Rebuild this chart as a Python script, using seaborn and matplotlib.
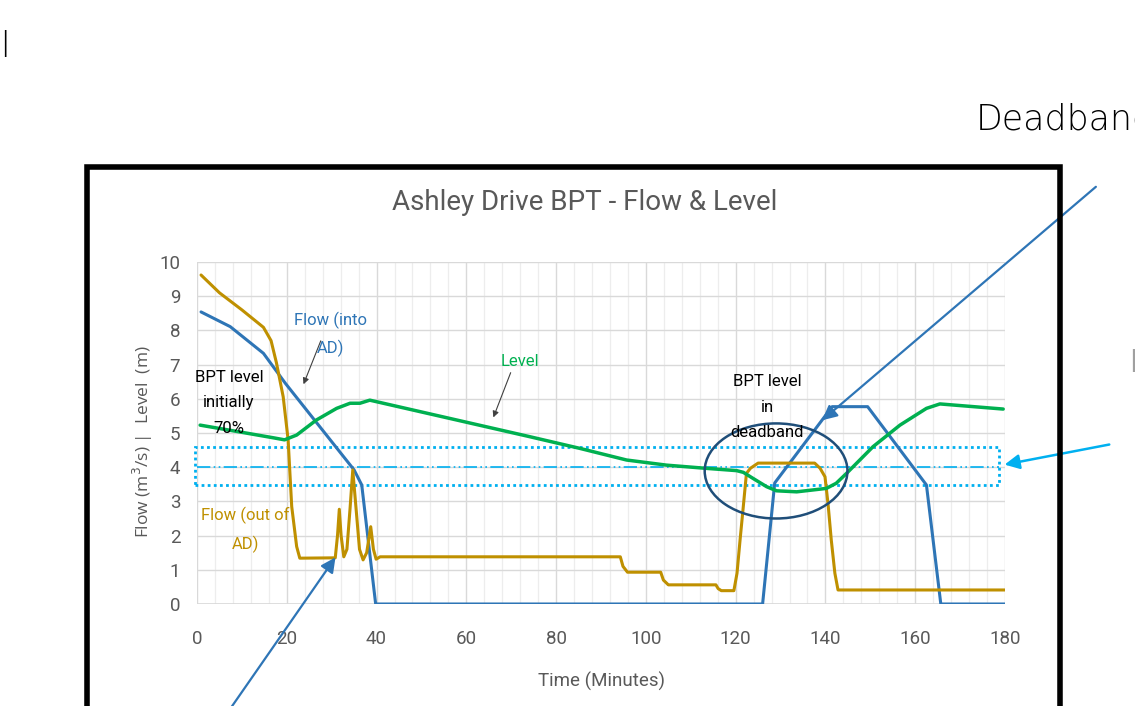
import numpy as np
import pandas as pd
import matplotlib
matplotlib.use("Agg")
import matplotlib.pyplot as plt
from matplotlib import font_manager
from matplotlib.patches import Rectangle, Ellipse
from matplotlib.ticker import MultipleLocator
import seaborn as sns

# ---------------- data ----------------
flow_in_t = [0.9, 7.4, 14.8, 19.7, 35, 36.7, 39.8, 126, 128.7, 141.5, 149.4, 162.5, 165.7, 180]
flow_in_v = [8.54, 8.11, 7.33, 6.45, 3.92, 3.48, 0.0, 0.0, 3.54, 5.77, 5.77, 3.48, 0.0, 0.0]

flow_out_t = [0.9, 5, 10, 14.8, 16.5, 17.7, 19.2, 20.3, 21.1, 22.2, 22.9,
              30.8, 31.3, 31.7, 32.1, 32.7, 33.4, 34.1, 34.7, 35.3, 36.2, 37.0,
              37.8, 38.7, 39.3, 39.9, 40.8,
              94.3, 94.9, 95.9, 103.3, 103.9, 105.0, 115.6, 116.1, 116.8, 119.6,
              120.3, 121.0, 121.7, 122.4, 123.3, 125.0, 137.6, 138.8, 139.9, 140.6,
              141.3, 142.1, 142.8, 180]
flow_out_v = [9.62, 9.1, 8.6, 8.09, 7.7, 7.05, 6.06, 4.8, 2.85, 1.68, 1.34,
              1.35, 2.0, 2.77, 2.0, 1.38, 1.6, 2.8, 3.92, 3.0, 1.6, 1.29,
              1.5, 2.26, 1.6, 1.31, 1.38,
              1.38, 1.1, 0.93, 0.93, 0.7, 0.56, 0.56, 0.45, 0.39, 0.39,
              0.9, 1.9, 2.85, 3.82, 3.97, 4.12, 4.12, 3.97, 3.72, 2.9,
              1.87, 0.9, 0.41, 0.41]

level_t = [0.7, 10, 17, 19.5, 22.2, 26.6, 31.1, 34.1, 36.3, 38.5, 74.2, 85.3, 95.7,
           104.6, 113.1, 120.2, 121.7, 123.9, 126.9, 129.1, 133.6, 140.2, 142.4,
           144.7, 150.6, 156.6, 162.5, 165.5, 179.6]
level_v = [5.23, 5.02, 4.86, 4.80, 4.94, 5.38, 5.72, 5.87, 5.87, 5.96, 4.89, 4.55, 4.21,
           4.06, 3.97, 3.90, 3.85, 3.67, 3.43, 3.31, 3.28, 3.38, 3.53,
           3.82, 4.60, 5.23, 5.72, 5.85, 5.70]

deadband_low, deadband_high, deadband_mid = 3.48, 4.59, 4.0

x_ticks = [0, 20, 40, 60, 80, 100, 120, 140, 160, 180]
y_ticks = list(range(0, 11))

# ---------------- styling ----------------
sns.set_theme(style="white")
avail = {f.name for f in font_manager.fontManager.ttflist}
narrow = "Liberation Sans Narrow" if "Liberation Sans Narrow" in avail else "Roboto"
plt.rcParams["font.family"] = [narrow, "DejaVu Sans"]

GREY = "#595959"
BLUE = "#2E75B6"
GOLD = "#BF9000"
GREEN = "#00B050"
CYAN = "#00B0F0"

W, H = 1135, 706
fig = plt.figure(figsize=(W / 100, H / 100), dpi=100)
fig.patch.set_facecolor("white")

def fpx(x, y):
    """image pixel (top-left origin) -> figure pixel coordinates"""
    return (x, H - y)

ax = fig.add_axes([197 / W, 1 - 604 / H, (1005 - 197) / W, (604 - 262) / H])
ax.set_facecolor("white")

df_in = pd.DataFrame({"t": flow_in_t, "v": flow_in_v})
df_out = pd.DataFrame({"t": flow_out_t, "v": flow_out_v})
df_lvl = pd.DataFrame({"t": level_t, "v": level_v})

sns.lineplot(data=df_in, x="t", y="v", ax=ax, color=BLUE, lw=2.2, sort=False, estimator=None, zorder=4)
sns.lineplot(data=df_out, x="t", y="v", ax=ax, color=GOLD, lw=2.2, sort=False, estimator=None, zorder=4)
sns.lineplot(data=df_lvl, x="t", y="v", ax=ax, color=GREEN, lw=2.5, sort=False, estimator=None, zorder=5)

ax.set_xlim(0, 180)
ax.set_ylim(0, 10)
ax.set_xticks(x_ticks)
ax.set_yticks(y_ticks)
ax.xaxis.set_minor_locator(MultipleLocator(4))
ax.grid(which="major", color="#D9D9D9", lw=1.0, zorder=0)
ax.grid(which="minor", axis="x", color="#EDEDED", lw=0.9, zorder=0)
ax.set_axisbelow(True)
for s in ax.spines.values():
    s.set_visible(False)
ax.axhline(0, color="#D9D9D9", lw=1.2, zorder=1)
ax.tick_params(axis="both", which="both", length=0, colors=GREY, labelsize=13.5)
ax.tick_params(axis="x", pad=19)
ax.tick_params(axis="y", pad=12)
ax.set_xlabel("Time (Minutes)", color=GREY, fontsize=13.5, labelpad=17)
ax.set_ylabel("")
fig.text(*fpx(143, 442), "Flow (m$^3$/s) |  Level  (m)", transform=None, rotation=90,
         ha="center", va="center", color=GREY, fontsize=12.5, family=["Open Sans", "DejaVu Sans"])

# deadband box and mid line
ax.add_patch(Rectangle((-0.4, deadband_low), 179.0, deadband_high - deadband_low, fill=False,
                       edgecolor=CYAN, lw=2.0, linestyle=(0, (1, 1.2)), clip_on=False, zorder=3))
ax.plot([0, 178.6], [deadband_mid, deadband_mid], color=CYAN, lw=1.2,
        dashes=(8, 2, 1, 2, 1, 2), zorder=3)

# ellipse
ax.add_patch(Ellipse((129, 3.89), 31.8, 2.78, fill=False, edgecolor="#1F4E79", lw=1.8, zorder=6))

# text annotations
LS = 1.85
ax.text(29.8, 7.88, "Flow (into\nAD)", color=BLUE, fontsize=12, ha="center", va="center", linespacing=LS)
ax.text(71.9, 7.1, "Level", color=GREEN, fontsize=12, ha="center", va="center")
ax.text(7.1, 5.88, "BPT level\ninitially\n70%", color="black", fontsize=12, ha="center", va="center",
        linespacing=LS, zorder=7)
ax.text(10.7, 2.16, "Flow (out of\nAD)", color=GOLD, fontsize=12, ha="center", va="center", linespacing=LS)
ax.text(127, 5.76, "BPT level\nin\ndeadband", color="black", fontsize=12, ha="center", va="center",
        linespacing=LS, zorder=7)

# small grey pointer arrows
ax.annotate("", xy=(23.5, 6.35), xytext=(27.8, 7.77),
            arrowprops=dict(arrowstyle="-|>", color="#404040", lw=0.8, mutation_scale=9))
ax.annotate("", xy=(65.8, 5.38), xytext=(70.1, 6.84),
            arrowprops=dict(arrowstyle="-|>", color="#404040", lw=0.8, mutation_scale=9))

# big slide arrows
ax.annotate("", xy=(138.8, 5.32), xycoords="data", xytext=fpx(1098, 185), textcoords="figure pixels",
            arrowprops=dict(arrowstyle="-|>", color=BLUE, lw=1.6, mutation_scale=22),
            annotation_clip=False, zorder=8)
ax.annotate("", xy=(31.2, 1.43), xycoords="data", xytext=fpx(228, 712), textcoords="figure pixels",
            arrowprops=dict(arrowstyle="-|>", color=BLUE, lw=1.6, mutation_scale=22),
            annotation_clip=False, zorder=8)
ax.annotate("", xy=(179.3, 4.06), xycoords="data", xytext=fpx(1112, 444), textcoords="figure pixels",
            arrowprops=dict(arrowstyle="-|>", color=CYAN, lw=1.8, mutation_scale=22),
            annotation_clip=False, zorder=8)

# chart title
fig.text(*fpx(585, 203), "Ashley Drive BPT - Flow & Level", transform=None, ha="center", va="center",
         color=GREY, fontsize=20)

# black frame of the chart object
fig.patches.append(Rectangle(fpx(87, 725), 1060 - 87, 725 - 167, transform=None, fill=False,
                             edgecolor="black", lw=4.0, zorder=10))

# surrounding slide text (cut off at the slide crop edge, as in the reference)
fig.text(*fpx(976, 119), "Deadband", transform=None, ha="left", va="center", color="black",
         fontsize=25, fontweight="light", fontstretch="expanded", family=["DejaVu Sans"])
fig.text(*fpx(0, 47), "l", transform=None, ha="left", va="center", color="black",
         fontsize=25, fontweight="light", family=["DejaVu Sans"])
fig.text(*fpx(1129, 364), "l", transform=None, ha="left", va="center", color="#A0A0A0",
         fontsize=22, family=["DejaVu Sans"])

fig.savefig("out.png", dpi=100, facecolor="white")
